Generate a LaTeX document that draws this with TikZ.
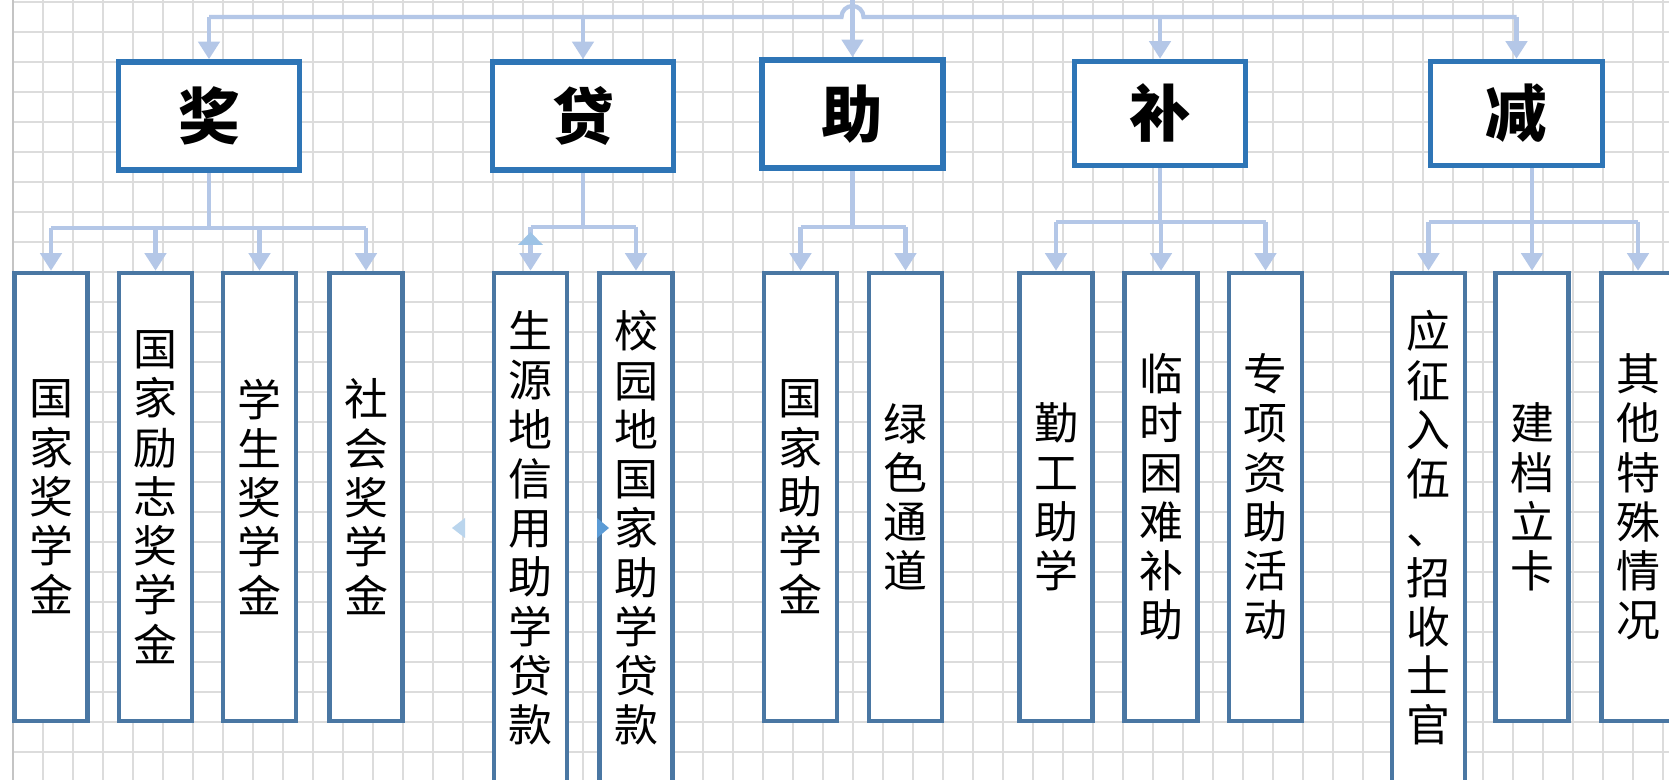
\documentclass[tikz,border=0pt]{standalone}
\usepackage{fontspec}
\newfontfamily\cjk{Noto Sans CJK SC}
\usetikzlibrary{arrows.meta}
\definecolor{gridgray}{HTML}{DCDCDC}
\definecolor{edgegray}{HTML}{C4C4C4}
\definecolor{linkblue}{HTML}{B4C7E7}
\definecolor{headblue}{HTML}{2E75B6}
\definecolor{itemblue}{HTML}{4A77A3}
\definecolor{handleblue}{HTML}{9DC3E6}
\definecolor{handledark}{HTML}{5B9BD5}

\begin{document}
\begin{tikzpicture}
      [x=0.01cm, y=-0.01cm,
       gridline/.style={gridgray, line width=0.35pt},
       head/.style={draw=headblue, line width=1.56pt, fill=white, inner sep=0pt,
         minimum width=1.81cm, minimum height=1.08cm,
         font=\cjk\bfseries\fontsize{17.5}{18}\selectfont},
       item/.style={draw=itemblue, line width=1.22pt, fill=white, inner sep=0pt, align=center,
         minimum width=0.73cm, minimum height=4.48cm,
         font=\cjk\fontsize{12.5}{14}\selectfont},
       longitem/.style={item, minimum height=5.10cm},
       link/.style={linkblue, line width=1.2pt},
       feed/.style={link, -{Triangle[width=6pt,length=5pt]}}]
      \useasboundingbox (0,0) rectangle (1669,780);
      \clip (0,0) rectangle (1669,780);
      \fill[white] (0,0) rectangle (1669,780);
      \foreach \gx in {43,73,...,1669} \draw[gridline] (\gx,0) -- (\gx,780);
      \foreach \gy in {2,32,...,780} \draw[gridline] (13,\gy) -- (1669,\gy);
      \draw[edgegray, line width=0.6pt] (13,0) -- (13,780);

      \node[head] (jiang) at (209,116) {奖};
      \node[head] (dai) at (583,116) {贷};
      \node[head] (zhu) at (852.5,114) {助};
      \node[head, minimum width=1.71cm, minimum height=1.04cm] (bu) at (1160,113.5) {补};
      \node[head, minimum width=1.72cm, minimum height=1.04cm] (jian) at (1516.5,113.5) {减};

      \node[item] (j1) at (51,497) {国\\家\\奖\\学\\金};
      \node[item] (j2) at (155.5,497) {国\\家\\励\\志\\奖\\学\\金};
      \node[item] (j3) at (259.5,497) {学\\生\\奖\\学\\金};
      \node[item] (j4) at (366,497) {社\\会\\奖\\学\\金};
      \node[longitem] (d1) at (530.5,528) {生\\源\\地\\信\\用\\助\\学\\贷\\款};
      \node[longitem] (d2) at (636,528) {校\\园\\地\\国\\家\\助\\学\\贷\\款};
      \node[item] (z1) at (800.5,497) {国\\家\\助\\学\\金};
      \node[item] (z2) at (905.5,497) {绿\\色\\通\\道};
      \node[item] (b1) at (1056,497) {勤\\工\\助\\学};
      \node[item] (b2) at (1161,497) {临\\时\\困\\难\\补\\助};
      \node[item] (b3) at (1265.5,497) {专\\项\\资\\助\\活\\动};
      \node[longitem] (r1) at (1428.5,528) {应\\征\\入\\伍\\、\\招\\收\\士\\官};
      \node[item] (r2) at (1532,497) {建\\档\\立\\卡};
      \node[item] (r3) at (1638,497) {其\\他\\特\\殊\\情\\况};

      \coordinate (src) at (852.5,0);
      \coordinate (bus) at (0,17);
      \draw[feed] (src) -- (zhu.north);
      \draw[link] (jiang.north |- bus) -- (841.5,17) arc[start angle=180, end angle=360, radius=11] -- (jian.north |- bus);
      \foreach \top in {jiang,dai,bu,jian} \draw[feed] (\top.north |- bus) -- (\top.north);

      \coordinate (jbus) at (0,228);
      \draw[link] (jiang.south) -- (jiang.south |- jbus);
      \draw[link] (j1.north |- jbus) -- (j4.north |- jbus);
      \foreach \kid in {j1,j2,j3,j4} \draw[feed] (\kid.north |- jbus) -- (\kid.north);

      \coordinate (dbus) at (0,227);
      \draw[link] (dai.south) -- (dai.south |- dbus);
      \draw[link] (d1.north |- dbus) -- (d2.north |- dbus);
      \foreach \kid in {d1,d2} \draw[feed] (\kid.north |- dbus) -- (\kid.north);

      \coordinate (zbus) at (0,227);
      \draw[link] (zhu.south) -- (zhu.south |- zbus);
      \draw[link] (z1.north |- zbus) -- (z2.north |- zbus);
      \foreach \kid in {z1,z2} \draw[feed] (\kid.north |- zbus) -- (\kid.north);

      \coordinate (bbus) at (0,222);
      \draw[link] (bu.south) -- (bu.south |- bbus);
      \draw[link] (b1.north |- bbus) -- (b3.north |- bbus);
      \foreach \kid in {b1,b2,b3} \draw[feed] (\kid.north |- bbus) -- (\kid.north);

      \coordinate (rbus) at (0,222);
      \draw[link] (r1.north |- rbus) -- (r3.north |- rbus);
      \draw[feed] (r2.north |- jian.south) -- (r2.north);
      \foreach \kid in {r1,r3} \draw[feed] (\kid.north |- rbus) -- (\kid.north);

      \fill[handleblue] (518,245) -- (543,245) -- (530.5,232) -- cycle;
      \fill[handleblue!70] (465,518) -- (465,538) -- (452,528) -- cycle;
      \fill[handledark] (597,518) -- (597,538) -- (609,528) -- cycle;
    \end{tikzpicture}
\end{document}
